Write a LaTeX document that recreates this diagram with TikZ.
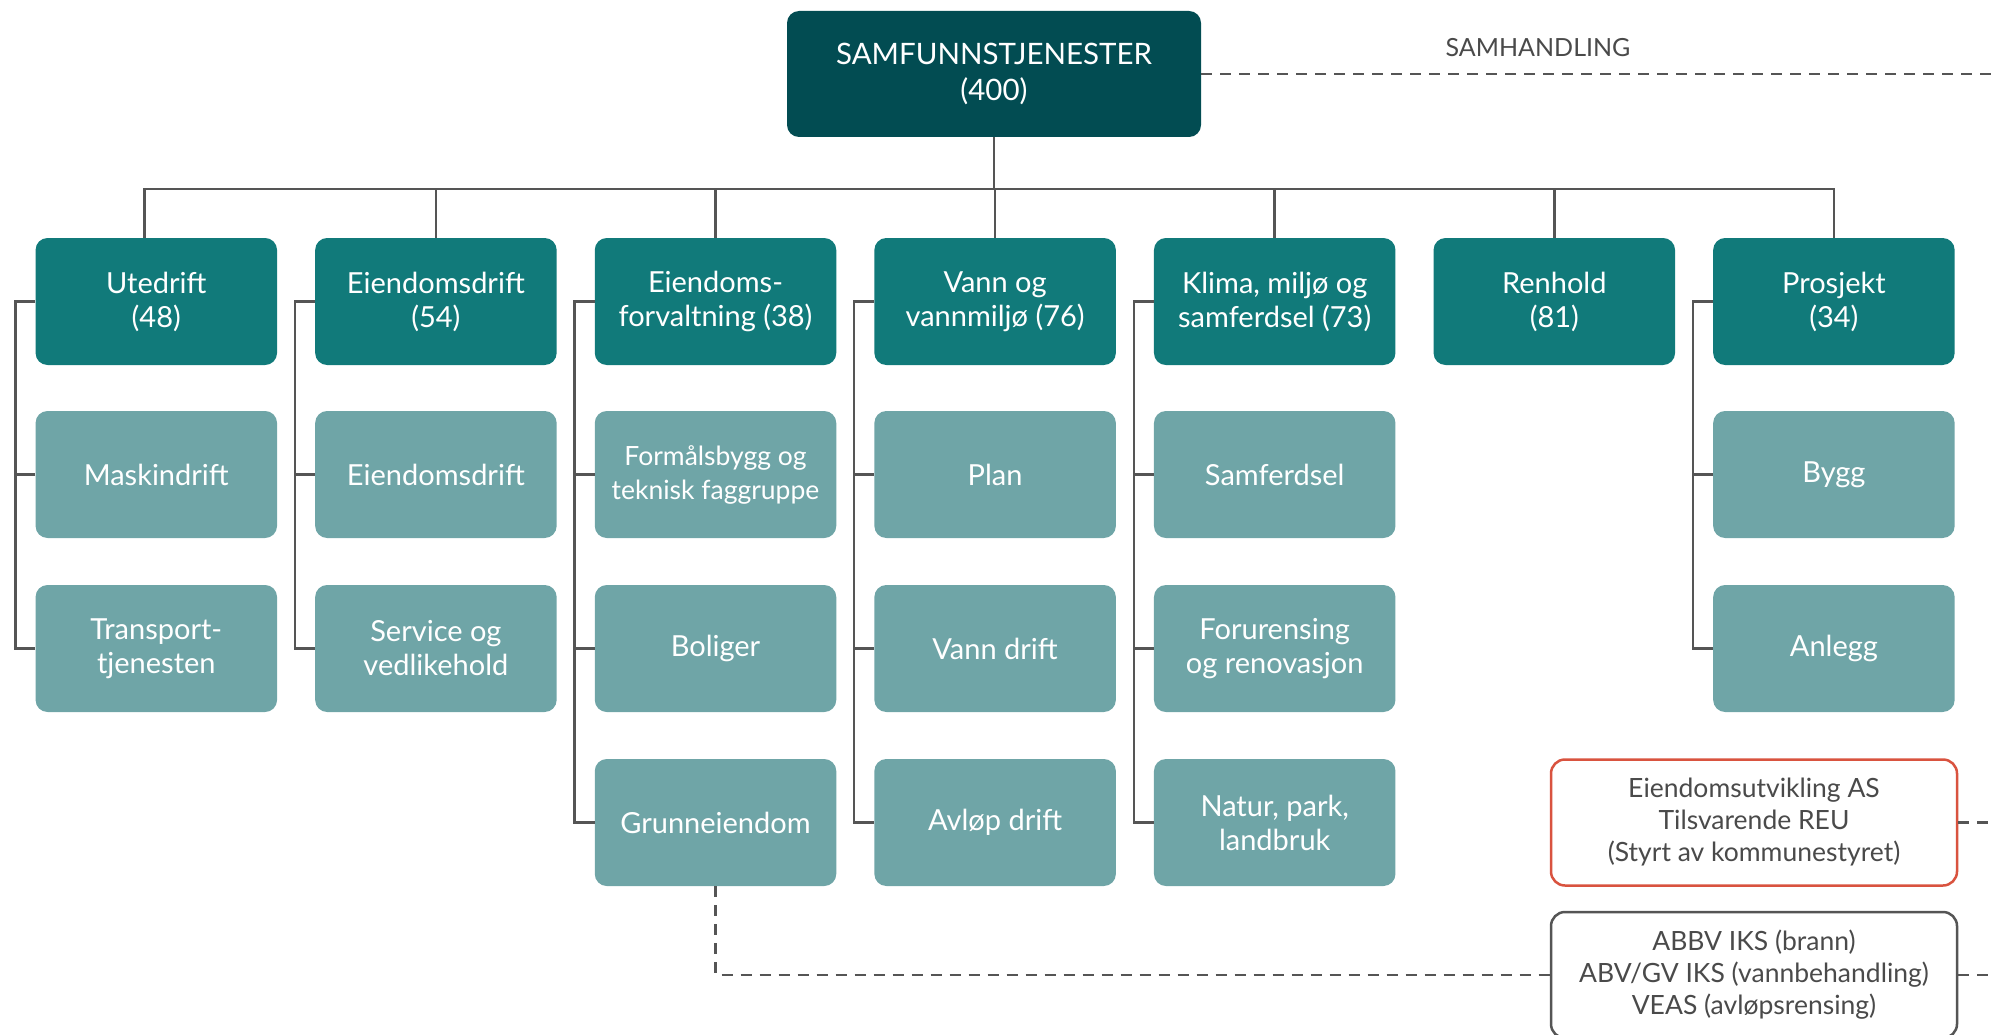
\documentclass[tikz,border=0pt]{standalone}
\usepackage{fontspec}
\setmainfont{Lato}
\definecolor{topc}{HTML}{024C52}
\definecolor{headc}{HTML}{117A7A}
\definecolor{subc}{HTML}{6FA5A7}
\definecolor{linec}{HTML}{555555}
\definecolor{redc}{HTML}{D9533F}
\definecolor{txtc}{HTML}{4A4A4A}
\tikzset{
  box/.style={rounded corners=12pt, minimum width=241.5pt, minimum height=127pt, align=center, text=white, inner sep=2pt, font=\fontsize{29}{34}\selectfont},
  head/.style={box, fill=headc},
  sub/.style={box, fill=subc},
  topbox/.style={box, fill=topc, minimum width=414pt, minimum height=126pt, font=\fontsize{29.5}{36}\selectfont},
  outbox/.style={rounded corners=14pt, minimum width=406pt, minimum height=126pt, align=center, text=txtc, line width=2.5pt, fill=white, font=\fontsize{26.5}{32}\selectfont},
  conn/.style={draw=linec, line width=2.5pt},
  dconn/.style={draw=linec, line width=2.5pt, dash pattern=on 11pt off 8pt},
}
\begin{document}
\begin{tikzpicture}[x=1pt,y=-1pt]
\useasboundingbox (0,0) rectangle (1993,1035);
\begin{scope}
\clip (0,0) rectangle (1993,1035);
% top
\node[topbox] (top) at (994,74) {SAMFUNNSTJENESTER\\(400)};
\node[text=txtc, font=\fontsize{25}{28}\selectfont] (samh) at (1538,48) {SAMHANDLING};
% headers
\node[head] (u1) at (156.3,301.5) {Utedrift\\(48)};
\node[head] (e1) at (435.9,301.5) {Eiendomsdrift\\(54)};
\node[head] (f1) at (715.5,301.5) {Eiendoms-\\forvaltning (38)};
\node[head] (v1) at (995.1,301.5) {Vann og\\vannmiljø (76)};
\node[head] (k1) at (1274.7,301.5) {Klima, miljø og\\samferdsel (73)};
\node[head] (r1) at (1554.3,301.5) {Renhold\\(81)};
\node[head] (p1) at (1833.9,301.5) {Prosjekt\\(34)};
% children
\node[sub] (u2) at (156.3,474.5) {Maskindrift};
\node[sub] (u3) at (156.3,648.5) {Transport-\\tjenesten};
\node[sub] (e2) at (435.9,474.5) {Eiendomsdrift};
\node[sub] (e3) at (435.9,648.5) {Service og\\vedlikehold};
\node[sub] (f2) at (715.5,474.5) {\fontsize{26.5}{34}\selectfont Formålsbygg og\\\fontsize{26.5}{34}\selectfont teknisk faggruppe};
\node[sub] (f3) at (715.5,648.5) {Boliger};
\node[sub] (f4) at (715.5,822.5) {Grunneiendom};
\node[sub] (v2) at (995.1,474.5) {Plan};
\node[sub] (v3) at (995.1,648.5) {Vann drift};
\node[sub] (v4) at (995.1,822.5) {Avløp drift};
\node[sub] (k2) at (1274.7,474.5) {Samferdsel};
\node[sub] (k3) at (1274.7,648.5) {Forurensing\\og renovasjon};
\node[sub] (k4) at (1274.7,822.5) {Natur, park,\\landbruk};
\node[sub] (p2) at (1833.9,474.5) {Bygg};
\node[sub] (p3) at (1833.9,648.5) {Anlegg};
% outlined boxes
\node[outbox, draw=redc] (reu) at (1754,822.5) {Eiendomsutvikling AS\\Tilsvarende REU\\(Styrt av kommunestyret)};
\node[outbox, draw=linec] (iks) at (1754,975) {ABBV IKS (brann)\\ABV/GV IKS (vannbehandling)\\VEAS (avløpsrensing)};
% bus
\draw[conn] (top.south) -- ++(0,52);
\draw[conn] ([xshift=-12pt]u1.north) -- ++(0,-49) -| (p1.north);
\foreach \n in {e1,f1,v1,k1,r1} \draw[conn] (\n.north) -- ++(0,-49);
% brackets
\draw[conn] (u1.west) -- ++(-20,0) |- (u3.west);
\draw[conn] (u2.west) -- ++(-20,0);
\draw[conn] (e1.west) -- ++(-20,0) |- (e3.west);
\draw[conn] (e2.west) -- ++(-20,0);
\draw[conn] (f1.west) -- ++(-20,0) |- (f4.west);
\draw[conn] (f2.west) -- ++(-20,0);
\draw[conn] (f3.west) -- ++(-20,0);
\draw[conn] (v1.west) -- ++(-20,0) |- (v4.west);
\draw[conn] (v2.west) -- ++(-20,0);
\draw[conn] (v3.west) -- ++(-20,0);
\draw[conn] (k1.west) -- ++(-20,0) |- (k4.west);
\draw[conn] (k2.west) -- ++(-20,0);
\draw[conn] (k3.west) -- ++(-20,0);
\draw[conn] (p1.west) -- ++(-20,0) |- (p3.west);
\draw[conn] (p2.west) -- ++(-20,0);
% dashed
\coordinate (rt) at (1993,74);
\coordinate (rr) at (1993,822.5);
\coordinate (ri) at (1993,975);
\draw[dconn] (top.east) -- (rt);
\draw[dconn] (reu.east) -- (rr);
\draw[dconn] (iks.east) -- (ri);
\draw[dconn] (f4.south) |- (iks.west);
\end{scope}
\end{tikzpicture}
\end{document}
